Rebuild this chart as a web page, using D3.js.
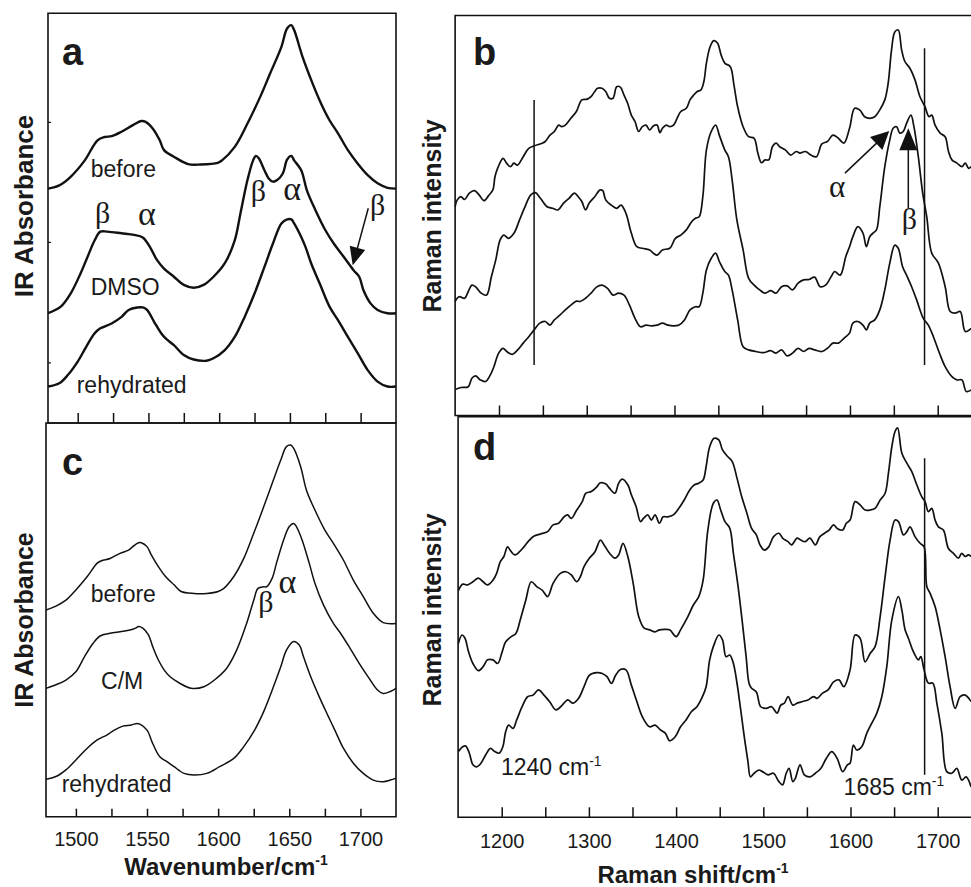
<!DOCTYPE html>
<html>
<head>
<meta charset="utf-8">
<script src="https://cdn.jsdelivr.net/npm/d3@7"></script>
<style>
  body { margin: 0; background: #fff; }
  text { fill: #1a1a1a; }
</style>
</head>
<body>
<svg id="fig" width="971" height="887"></svg>
<script>
// ---------- data ----------
const irTicks = [1500, 1525, 1550, 1575, 1600, 1625, 1650, 1675, 1700];
const irTickLabels = [1500, 1550, 1600, 1650, 1700];
const ramanTicks = [1200, 1250, 1300, 1350, 1400, 1450, 1500, 1550, 1600, 1650, 1700, 1750];
const ramanTickLabels = [1200, 1300, 1400, 1500, 1600, 1700];
const aSideTicks = [0.148, 0.442, 0.735];

// panel a: IR, DMSO
const aBefore = [[1479,.572],[1487,.580],[1495,.601],[1505,.641],[1514,.690],[1519,.698],[1524,.700],[1531,.711],[1539,.727],[1545,.737],[1548,.735],[1553,.719],[1558,.690],[1561,.666],[1568,.650],[1578,.632],[1587,.631],[1599,.635],[1602,.641],[1611,.674],[1620,.731],[1629,.796],[1636,.853],[1644,.918],[1648,.963],[1651,.971],[1653,.959],[1659,.893],[1666,.829],[1672,.780],[1678,.739],[1684,.707],[1691,.666],[1698,.633],[1705,.605],[1712,.585],[1719,.574],[1725,.572]];
const aDmso = [[1479,.268],[1488,.284],[1495,.316],[1502,.365],[1507,.406],[1512,.446],[1516,.467],[1521,.467],[1531,.463],[1540,.459],[1546,.453],[1551,.430],[1556,.398],[1561,.377],[1568,.357],[1575,.337],[1582,.330],[1589,.337],[1596,.357],[1604,.390],[1611,.446],[1615,.511],[1620,.593],[1624,.641],[1626,.652],[1628,.646],[1632,.617],[1635,.597],[1638,.589],[1641,.593],[1645,.609],[1648,.643],[1651,.652],[1653,.641],[1658,.617],[1662,.568],[1668,.520],[1675,.471],[1681,.438],[1688,.406],[1695,.373],[1699,.357],[1702,.324],[1707,.292],[1712,.276],[1719,.268],[1725,.268]];
const aRehydrated = [[1479,.089],[1487,.097],[1493,.117],[1500,.150],[1506,.186],[1512,.219],[1516,.231],[1524,.243],[1531,.259],[1536,.276],[1542,.282],[1546,.282],[1549,.276],[1554,.247],[1559,.219],[1562,.207],[1568,.190],[1575,.166],[1582,.155],[1591,.152],[1596,.158],[1604,.178],[1611,.210],[1618,.259],[1625,.316],[1632,.381],[1638,.438],[1644,.487],[1648,.497],[1651,.497],[1653,.487],[1658,.454],[1661,.430],[1665,.390],[1671,.341],[1678,.284],[1684,.251],[1691,.210],[1698,.170],[1705,.129],[1712,.101],[1719,.089],[1725,.089]];

// panel c: IR, chloroform/methanol
const cBefore = [[1479,.525],[1486,.535],[1493,.550],[1500,.576],[1508,.610],[1515,.644],[1518,.650],[1524,.656],[1531,.669],[1537,.677],[1540,.686],[1544,.696],[1546,.696],[1550,.686],[1553,.665],[1558,.635],[1563,.610],[1569,.589],[1574,.572],[1583,.567],[1592,.567],[1600,.572],[1604,.580],[1611,.610],[1618,.656],[1625,.720],[1632,.787],[1638,.847],[1644,.906],[1648,.940],[1651,.944],[1653,.936],[1658,.889],[1662,.830],[1668,.779],[1675,.728],[1681,.694],[1688,.652],[1695,.601],[1702,.559],[1709,.517],[1716,.493],[1725,.491]];
const cCM = [[1479,.326],[1486,.335],[1493,.347],[1500,.368],[1506,.406],[1512,.440],[1517,.459],[1524,.466],[1531,.470],[1538,.474],[1542,.479],[1544,.483],[1547,.479],[1551,.462],[1554,.432],[1558,.398],[1562,.373],[1566,.356],[1573,.339],[1581,.326],[1590,.330],[1599,.352],[1606,.377],[1613,.423],[1620,.491],[1625,.550],[1628,.580],[1632,.584],[1634,.584],[1638,.606],[1641,.644],[1646,.703],[1650,.737],[1653,.745],[1655,.737],[1659,.703],[1664,.644],[1668,.593],[1674,.538],[1681,.491],[1686,.466],[1692,.432],[1699,.390],[1706,.352],[1712,.322],[1716,.313],[1721,.318],[1725,.326]];
const cRehydrated = [[1479,.095],[1486,.102],[1493,.119],[1500,.144],[1508,.174],[1515,.195],[1522,.208],[1527,.220],[1533,.230],[1539,.233],[1543,.237],[1545,.235],[1550,.220],[1554,.186],[1559,.152],[1564,.140],[1569,.127],[1576,.110],[1583,.106],[1592,.110],[1601,.127],[1611,.148],[1618,.178],[1625,.216],[1632,.267],[1638,.322],[1644,.381],[1648,.423],[1653,.445],[1657,.436],[1660,.406],[1665,.356],[1671,.305],[1677,.258],[1682,.220],[1688,.174],[1695,.136],[1702,.110],[1709,.093],[1716,.089],[1721,.093],[1725,.098]];

// panel b: Raman, DMSO
const bTop = [[1150,.522],[1152.4,.539],[1156.6,.547],[1160.8,.540],[1166.2,.556],[1172.1,.562],[1177.5,.551],[1182.9,.537],[1187.9,.549],[1193,.564],[1195.4,.597],[1198.4,.618],[1204.6,.643],[1208.6,.631],[1213,.622],[1217,.631],[1221,.626],[1227.6,.647],[1233.9,.668],[1240.1,.674],[1248.5,.680],[1252.7,.685],[1258.1,.701],[1263.1,.710],[1268.1,.726],[1271.5,.722],[1275.6,.726],[1281.9,.743],[1288.2,.760],[1294.4,.789],[1300.7,.791],[1304.9,.797],[1309.1,.810],[1312.4,.818],[1317.4,.818],[1321.6,.810],[1325.8,.793],[1330,.793],[1334.1,.822],[1338.3,.821],[1342.5,.801],[1346.7,.780],[1350.8,.751],[1355,.735],[1359.2,.710],[1363.4,.722],[1367.5,.726],[1371.7,.714],[1375.9,.724],[1380.1,.726],[1383.4,.707],[1386.3,.718],[1390.5,.726],[1394.7,.722],[1398.9,.726],[1403,.743],[1407.2,.760],[1413.5,.768],[1417.7,.789],[1421.8,.801],[1426,.810],[1430.2,.814],[1433.5,.835],[1436.4,.881],[1440.6,.922],[1444.8,.937],[1449,.931],[1453.2,.901],[1457.3,.881],[1463.6,.872],[1467.8,.826],[1472,.772],[1478.2,.722],[1484.5,.697],[1490.8,.693],[1495,.656],[1499.1,.632],[1503.3,.639],[1507.5,.639],[1511.6,.672],[1515.8,.681],[1520,.672],[1526.3,.664],[1532.5,.651],[1538.8,.660],[1543,.656],[1549.2,.660],[1555.5,.651],[1561.8,.647],[1568,.679],[1574.3,.685],[1580.6,.701],[1586.8,.693],[1593.1,.681],[1599.5,.718],[1605.3,.768],[1611,.764],[1616.7,.747],[1622.5,.743],[1628.2,.747],[1634,.764],[1639.7,.789],[1643.5,.830],[1647.4,.914],[1651.1,.959],[1655,.964],[1658.9,.914],[1662.6,.885],[1668.3,.868],[1674.1,.839],[1679.8,.797],[1685.5,.772],[1690.1,.747],[1693.2,.751],[1697,.726],[1702.8,.706],[1708.5,.697],[1712.3,.660],[1716.2,.639],[1721.9,.631],[1727.6,.622],[1731.4,.631],[1735.2,.618],[1738.3,.622]];
const bMiddle = [[1150,.285],[1154.5,.297],[1160.8,.293],[1165,.310],[1169.1,.326],[1173.3,.322],[1179.6,.306],[1185.8,.301],[1191.3,.347],[1196.3,.389],[1201.3,.439],[1205.5,.451],[1210.9,.443],[1217.2,.456],[1223.4,.489],[1229.7,.522],[1236,.551],[1241.4,.557],[1247.2,.543],[1254.8,.522],[1261,.518],[1267.3,.514],[1273.6,.531],[1279.8,.543],[1286.1,.556],[1290.3,.547],[1294.4,.535],[1298.6,.514],[1302.8,.531],[1309.1,.547],[1315.3,.564],[1318.3,.562],[1321.6,.539],[1327.9,.526],[1334.1,.518],[1339.1,.526],[1344.6,.506],[1350.8,.456],[1357.1,.422],[1363.4,.418],[1371.7,.414],[1375.9,.406],[1380.1,.401],[1386.3,.414],[1394.7,.418],[1401,.443],[1407.2,.451],[1413.5,.464],[1419.8,.485],[1423.9,.493],[1428.1,.497],[1432.3,.547],[1436.4,.664],[1441.9,.710],[1446.9,.726],[1451.1,.701],[1457.3,.664],[1461.5,.647],[1465.7,.589],[1471.1,.489],[1478.2,.414],[1484.5,.343],[1490.8,.326],[1497,.314],[1503.3,.306],[1509.6,.312],[1515.8,.306],[1522.1,.322],[1528.4,.324],[1534.6,.314],[1540.9,.331],[1547.2,.339],[1553.4,.340],[1559.7,.346],[1566,.322],[1572.2,.326],[1578.5,.347],[1582.6,.360],[1588.9,.351],[1595.2,.397],[1599.5,.422],[1603.3,.447],[1609,.472],[1614.8,.456],[1618.7,.422],[1622.5,.447],[1626.3,.456],[1630.2,.464],[1634,.522],[1639.7,.622],[1645.4,.689],[1649.2,.718],[1653.1,.722],[1656.9,.706],[1660.7,.710],[1664.6,.731],[1669.5,.751],[1672.9,.722],[1677.9,.647],[1682.9,.556],[1687.5,.497],[1693.2,.406],[1700.8,.381],[1708.5,.322],[1714.2,.260],[1720,.256],[1725.7,.260],[1731.4,.210],[1738.3,.218]];
const bBottom = [[1150,.065],[1156.6,.070],[1165,.072],[1169.1,.093],[1173.3,.099],[1178.7,.089],[1184.6,.085],[1190,.101],[1194.2,.122],[1199.6,.156],[1204.6,.168],[1208.8,.160],[1215.1,.153],[1221.3,.164],[1227.6,.181],[1233.9,.197],[1240.1,.214],[1246.4,.231],[1252.7,.235],[1258.1,.226],[1263.1,.239],[1269.4,.251],[1275.6,.264],[1281.9,.276],[1288.2,.286],[1292.4,.285],[1298.6,.293],[1304.9,.306],[1311.1,.321],[1317.4,.326],[1323.7,.318],[1329.9,.301],[1336.2,.306],[1342.5,.301],[1348.7,.276],[1355,.243],[1361.3,.222],[1367.5,.226],[1373.8,.224],[1380.1,.226],[1386.3,.231],[1392.6,.226],[1398.9,.224],[1405.1,.226],[1411.4,.239],[1417.7,.264],[1423.9,.272],[1428.1,.272],[1432.3,.306],[1436.4,.364],[1441.9,.393],[1446.9,.406],[1451.1,.385],[1457.3,.360],[1461.5,.351],[1465.7,.314],[1472,.239],[1478.2,.172],[1484.5,.164],[1492.8,.160],[1501.2,.157],[1509.6,.162],[1515.8,.156],[1522.1,.164],[1528.4,.149],[1534.6,.156],[1540.9,.168],[1547.2,.160],[1553.4,.168],[1559.7,.164],[1568,.160],[1574.3,.168],[1580.6,.181],[1586.8,.181],[1593.1,.193],[1599.5,.206],[1603.3,.231],[1609,.235],[1614.8,.226],[1618.7,.214],[1622.5,.231],[1628.2,.239],[1634,.264],[1639.7,.314],[1645.4,.381],[1651.1,.426],[1655,.418],[1660,.372],[1665.3,.347],[1670.3,.322],[1676,.289],[1683.6,.243],[1689.3,.226],[1695.1,.197],[1702,.156],[1708.5,.122],[1716.2,.097],[1721.9,.089],[1727.6,.089],[1732.6,.060],[1738.3,.064]];

// panel d: Raman, chloroform/methanol
const dTop = [[1150.3,.566],[1155.3,.582],[1160.8,.580],[1167,.588],[1173.3,.597],[1178.7,.588],[1183.7,.580],[1190,.592],[1194.2,.609],[1198.4,.638],[1202.5,.651],[1206.7,.675],[1210.9,.663],[1215.1,.655],[1220.5,.663],[1225.5,.675],[1231.8,.692],[1237.2,.702],[1244.3,.707],[1252.7,.713],[1258.9,.730],[1265.2,.734],[1271.5,.750],[1275.6,.755],[1279.8,.746],[1286.1,.767],[1292.4,.788],[1296.5,.809],[1302.8,.813],[1309.1,.825],[1313.2,.835],[1319.5,.832],[1323.7,.821],[1329.9,.809],[1334.1,.834],[1338.3,.844],[1344.6,.830],[1348.7,.805],[1354.2,.775],[1359.2,.738],[1362.5,.746],[1367.5,.755],[1371.7,.742],[1375.9,.755],[1380.9,.734],[1385.1,.750],[1390.5,.750],[1396.8,.755],[1403,.771],[1409.3,.792],[1415.6,.817],[1421,.830],[1426,.834],[1431,.842],[1434.4,.875],[1438.5,.925],[1443.6,.946],[1449,.942],[1453.2,.917],[1459.4,.900],[1464.4,.888],[1469.9,.846],[1475.3,.800],[1481.2,.759],[1486.6,.721],[1492,.705],[1496.2,.680],[1501.2,.667],[1506.2,.675],[1511.6,.700],[1517.9,.709],[1522.1,.697],[1528.4,.688],[1532.5,.680],[1538.8,.697],[1543,.692],[1548,.688],[1553.4,.697],[1559.7,.680],[1564.7,.700],[1570.1,.709],[1575.5,.717],[1580.6,.730],[1584.7,.721],[1591,.717],[1595.2,.734],[1599.5,.742],[1605.3,.788],[1611,.780],[1616.7,.767],[1622.5,.767],[1628.2,.771],[1634,.792],[1639.7,.809],[1643.5,.859],[1647.4,.925],[1651.1,.963],[1654,.972],[1658.9,.909],[1664.6,.884],[1670.3,.863],[1676,.830],[1681.8,.800],[1685.5,.788],[1689.3,.763],[1693.2,.771],[1697,.742],[1700.8,.725],[1706.5,.717],[1712.3,.671],[1718,.659],[1723.7,.647],[1727.6,.659],[1731.4,.651],[1735.2,.655],[1738.3,.651]];
const dMiddle = [[1150.3,.434],[1154.5,.455],[1157.9,.447],[1162,.413],[1167,.384],[1173.3,.366],[1178.7,.376],[1183.7,.393],[1190,.393],[1195.4,.384],[1200.5,.413],[1204.6,.438],[1210.9,.451],[1216.3,.459],[1221.3,.493],[1227.6,.542],[1233.9,.588],[1240.1,.576],[1246.4,.567],[1252.7,.551],[1258.9,.584],[1267.3,.609],[1273.6,.613],[1279.8,.605],[1286.1,.588],[1290.3,.601],[1294.4,.626],[1300.7,.647],[1307,.663],[1313.2,.692],[1317.4,.680],[1323.7,.659],[1329.9,.647],[1334.1,.655],[1339.1,.684],[1344.6,.651],[1350.8,.584],[1357.1,.501],[1363.4,.472],[1369.6,.468],[1375.9,.463],[1380.9,.468],[1386.3,.469],[1392.6,.468],[1400.1,.451],[1405.1,.468],[1413.5,.501],[1419.8,.530],[1426,.551],[1431,.592],[1436.4,.717],[1442.7,.784],[1446.9,.792],[1451.1,.767],[1456.1,.738],[1461.5,.722],[1465.7,.659],[1471.1,.576],[1476.1,.484],[1480.3,.401],[1483.7,.334],[1486.6,.322],[1492,.313],[1497,.276],[1503.3,.272],[1509.6,.276],[1515.8,.260],[1520,.280],[1524.2,.285],[1528.4,.301],[1533.8,.280],[1538.8,.285],[1545.1,.289],[1551.3,.293],[1557.6,.301],[1561.8,.297],[1568,.310],[1574.3,.318],[1580.6,.338],[1586.8,.343],[1592.3,.326],[1599.5,.368],[1605.3,.455],[1611,.447],[1616.7,.388],[1622.5,.409],[1628.2,.426],[1634,.501],[1639.7,.601],[1645.4,.692],[1651.1,.742],[1655,.738],[1660.7,.705],[1664.6,.713],[1668.3,.725],[1674.1,.700],[1679.8,.684],[1684.4,.675],[1687.5,.576],[1691.3,.559],[1697,.526],[1702.8,.468],[1708.5,.401],[1714.2,.326],[1720,.272],[1725.7,.301],[1731.4,.305],[1738.3,.289]];
const dBottom = [[1150.3,.164],[1155.3,.176],[1158.7,.178],[1162.9,.160],[1167,.131],[1171.2,.126],[1176.2,.135],[1181.7,.156],[1187.1,.172],[1192.1,.164],[1197.1,.160],[1201.3,.176],[1204.6,.214],[1208,.230],[1213,.222],[1217.2,.243],[1223.4,.276],[1229.7,.301],[1236,.305],[1242.2,.318],[1248.5,.305],[1254.8,.289],[1262.3,.268],[1269.4,.280],[1275.6,.293],[1281.9,.285],[1288.2,.297],[1294.4,.326],[1300.7,.355],[1309.1,.361],[1315.3,.359],[1320.8,.351],[1325.8,.334],[1330.8,.355],[1336.2,.369],[1342.5,.368],[1348.7,.330],[1355,.289],[1361.3,.251],[1369.6,.226],[1375.9,.230],[1382.2,.218],[1387.6,.210],[1392.6,.191],[1398.9,.201],[1405.1,.226],[1411.4,.243],[1417.7,.264],[1423.9,.276],[1430.2,.301],[1434.4,.326],[1438.5,.393],[1442.7,.426],[1449,.455],[1453.2,.443],[1457.3,.401],[1461.5,.405],[1465.7,.384],[1469.9,.334],[1474.1,.268],[1478.2,.201],[1482.4,.139],[1485.3,.101],[1489.5,.110],[1494.9,.118],[1499.1,.114],[1505.4,.106],[1511.6,.110],[1517.9,.089],[1522.1,.081],[1526.3,.110],[1529.6,.122],[1533.8,.089],[1536.7,.097],[1542.1,.131],[1547.1,.106],[1553.4,.101],[1559.7,.110],[1565.9,.122],[1572.2,.147],[1578.5,.164],[1584.7,.147],[1591,.114],[1596.4,.131],[1599.5,.135],[1603.3,.180],[1607.2,.168],[1612.9,.176],[1618.7,.210],[1624.4,.235],[1630.2,.260],[1635.9,.301],[1641.6,.376],[1647.4,.493],[1655,.551],[1658.9,.517],[1662.6,.468],[1666.4,.447],[1672.2,.413],[1677.9,.393],[1680.6,.401],[1684.4,.368],[1689.3,.335],[1694.4,.335],[1699,.285],[1704.7,.210],[1710.4,.114],[1716.2,.110],[1721.9,.122],[1727.6,.093],[1732.6,.101],[1738.3,.076]];

// reference lines (cm-1) and their vertical extent (a.u.)
const bMarkers = [{x: 1240, y0: 0.126, y1: 0.789}, {x: 1685, y0: 0.126, y1: 0.918}];
const dMarkers = [{x: 1685, y0: 0.106, y1: 0.896}];

// ---------- layout ----------
const FONT = "'Liberation Sans', Arial, Helvetica, sans-serif";
const GREEK = "'Liberation Serif', 'DejaVu Serif', serif";
const INK = '#111';

const svg = d3.select('#fig').style('font-family', FONT);
svg.append('rect').attr('width', 971).attr('height', 887).attr('fill', '#fff');

const panels = {
    a: { x: d3.scaleLinear().domain([1479, 1725]).range([48, 396]),
         y: d3.scaleLinear().domain([0, 1]).range([423, 13.3]), width: 2.4 },
    c: { x: d3.scaleLinear().domain([1479, 1725]).range([46, 396]),
         y: d3.scaleLinear().domain([0, 1]).range([816.7, 423]), width: 1.5 },
    b: { x: d3.scaleLinear().domain([1200, 1700]).range([499, 937.7]),
         y: d3.scaleLinear().domain([0, 1]).range([415.5, 15.5]), width: 1.7 },
    d: { x: d3.scaleLinear().domain([1200, 1700]).range([501.7, 937.7]),
         y: d3.scaleLinear().domain([0, 1]).range([817.3, 416.7]), width: 1.7 }
};

function frame(p, x0, x1) {
    let yb = p.y.range()[0], yt = p.y.range()[1];
    svg.append('path')
        .attr('d', `M${x1},${yt}H${x0}V${yb}H${x1}` + (x1 < 971 ? 'Z' : ''))
        .attr('fill', 'none').attr('stroke', INK).attr('stroke-width', 1.6);
}

function bottomTicks(p, values, labels, len, pad) {
    let g = svg.append('g')
        .attr('transform', `translate(0,${p.y.range()[0]})`)
        .call(d3.axisBottom(p.x)
            .tickValues(values)
            .tickSizeInner(-len)
            .tickSizeOuter(0)
            .tickPadding(pad)
            .tickFormat(v => labels && labels.includes(v) ? v : ''));
    g.select('.domain').remove();
    g.selectAll('.tick line').attr('stroke', INK).attr('stroke-width', 1.5);
    g.selectAll('.tick text')
        .style('font-family', FONT).style('font-size', '20px').attr('fill', '#1a1a1a');
}

function curves(p, series) {
    let line = d3.line()
        .curve(d3.curveCatmullRom.alpha(0.5))
        .x(d => p.x(d[0]))
        .y(d => p.y(d[1]));
    svg.append('g').selectAll('path')
        .data(series)
        .enter().append('path')
        .attr('d', line)
        .attr('fill', 'none')
        .attr('stroke', INK)
        .attr('stroke-width', p.width)
        .attr('stroke-linejoin', 'round');
}

function markers(p, list) {
    svg.append('g').selectAll('line')
        .data(list)
        .enter().append('line')
        .attr('x1', d => p.x(d.x)).attr('x2', d => p.x(d.x))
        .attr('y1', d => p.y(d.y0)).attr('y2', d => p.y(d.y1))
        .attr('stroke', INK).attr('stroke-width', 1.5);
}

function label(p, txt, x, y, size, opts) {
    opts = opts || {};
    let t = svg.append('text')
        .attr('x', p.x(x)).attr('y', p.y(y))
        .style('font-size', size + 'px')
        .style('font-family', opts.greek ? GREEK : FONT)
        .style('font-weight', opts.bold ? 'bold' : 'normal')
        .text(txt);
    if (opts.sup) {
        t.append('tspan').attr('dy', -size * 0.38).style('font-size', (size * 0.6) + 'px').text(opts.sup);
    }
    return t;
}

function arrow(p, from, to, len, wid, stroke) {
    let sx = p.x(from[0]), sy = p.y(from[1]), tx = p.x(to[0]), ty = p.y(to[1]);
    let dx = tx - sx, dy = ty - sy, n = Math.hypot(dx, dy);
    let ux = dx / n, uy = dy / n;
    let bx = tx - ux * len, by = ty - uy * len;
    svg.append('line')
        .attr('x1', sx).attr('y1', sy).attr('x2', bx + ux * 2).attr('y2', by + uy * 2)
        .attr('stroke', INK).attr('stroke-width', stroke);
    svg.append('path')
        .attr('d', `M${tx},${ty}L${bx - uy * wid / 2},${by + ux * wid / 2}L${bx + uy * wid / 2},${by - ux * wid / 2}Z`)
        .attr('fill', INK);
}

// ---------- panel a ----------
let pa = panels.a;
frame(pa, 48, 396);
bottomTicks(pa, irTicks, null, 10, 0);
let ga = svg.append('g').attr('transform', 'translate(48,0)')
    .call(d3.axisLeft(pa.y).tickValues(aSideTicks).tickSizeInner(-3).tickSizeOuter(0).tickFormat(''));
ga.select('.domain').remove();
ga.selectAll('.tick line').attr('stroke', INK).attr('stroke-width', 1.2);
curves(pa, [aBefore, aDmso, aRehydrated]);
label(pa, 'a', 1488.9, 0.873, 38, {bold: true});
label(pa, 'before', 1509.2, 0.601, 23);
label(pa, 'DMSO', 1509.2, 0.312, 23);
label(pa, 'rehydrated', 1499.3, 0.073, 23);
label(pa, 'β', 1512.2, 0.488, 30, {greek: true});
label(pa, 'α', 1542.6, 0.483, 34, {greek: true});
label(pa, 'β', 1622.3, 0.542, 30, {greek: true});
label(pa, 'α', 1645.3, 0.544, 34, {greek: true});
label(pa, 'β', 1706.6, 0.508, 30, {greek: true});
arrow(pa, [1705.4, 0.524], [1694.4, 0.385], 18, 16, 1.5);

// ---------- panel c ----------
let pc = panels.c;
frame(pc, 46, 396);
bottomTicks(pc, irTicks, irTickLabels, 8, 15);
curves(pc, [cBefore, cCM, cRehydrated]);
label(pc, 'c', 1490.2, 0.868, 38, {bold: true});
label(pc, 'before', 1510.4, 0.546, 23);
label(pc, 'C/M', 1517.7, 0.324, 23);
label(pc, 'rehydrated', 1490, 0.064, 23);
label(pc, 'β', 1628.2, 0.519, 30, {greek: true});
label(pc, 'α', 1642.5, 0.568, 34, {greek: true});

// ---------- panel b ----------
let pb = panels.b;
frame(pb, pb.x(1150), 1000);
bottomTicks(pb, ramanTicks, null, 10, 0);
curves(pb, [bTop, bMiddle, bBottom]);
markers(pb, bMarkers);
label(pb, 'b', 1170.4, 0.876, 38, {bold: true});
label(pb, 'α', 1576.1, 0.546, 31, {greek: true});
arrow(pb, [1594.3, 0.606], [1644.8, 0.711], 18, 18, 1.5);
label(pb, 'β', 1659, 0.466, 30, {greek: true});
arrow(pb, [1666.5, 0.518], [1666.5, 0.718], 22, 18, 1.5);

// ---------- panel d ----------
let pd = panels.d;
frame(pd, pd.x(1150), 1000);
bottomTicks(pd, ramanTicks, ramanTickLabels, 10, 17);
curves(pd, [dTop, dMiddle, dBottom]);
markers(pd, dMarkers);
label(pd, 'd', 1167.1, 0.892, 38, {bold: true});
label(pd, '1240 cm', 1199.2, 0.106, 23, {sup: '-1'});
label(pd, '1685 cm', 1592.1, 0.056, 23, {sup: '-1'});

// ---------- axis titles ----------
function yTitle(txt, x, y, size) {
    svg.append('text')
        .attr('transform', `translate(${x},${y}) rotate(-90)`)
        .attr('text-anchor', 'middle')
        .style('font-size', size + 'px').style('font-weight', 'bold')
        .text(txt);
}
yTitle('IR Absorbance', 33, 206, 26);
yTitle('IR Absorbance', 33, 620, 25);
yTitle('Raman intensity', 441, 216, 25);
yTitle('Raman intensity', 441, 610, 25);

function xTitle(txt, x, y) {
    let t = svg.append('text')
        .attr('x', x).attr('y', y)
        .attr('text-anchor', 'middle')
        .style('font-size', '24px').style('font-weight', 'bold')
        .text(txt);
    t.append('tspan').attr('dy', -10).style('font-size', '14px').text('-1');
}
xTitle('Wavenumber/cm', 226, 875);
xTitle('Raman shift/cm', 693, 883);
</script>
</body>
</html>
